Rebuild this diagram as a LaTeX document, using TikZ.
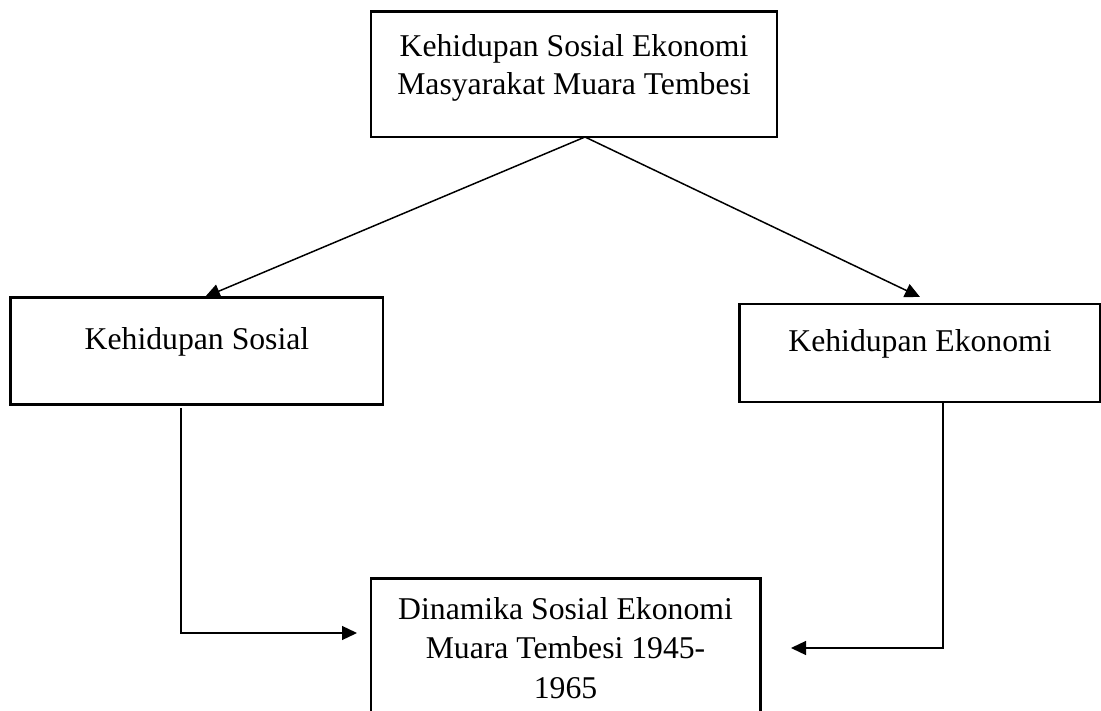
\documentclass[tikz,border=0pt]{standalone}
\usepackage{fontspec}
\setmainfont{Liberation Serif}
\usetikzlibrary{arrows.meta,calc}
\begin{document}
\begin{tikzpicture}[x=1pt,y=-1pt,
  box/.style={draw, line width=2.2pt, anchor=north west, inner sep=0pt, outer sep=0pt},
  txt/.style={font=\fontsize{31.7}{38}\selectfont, anchor=base, inner sep=0pt},
  conn/.style={line width=1.5pt, -{Triangle[length=15pt,width=14pt]}}]
\clip (0,0) rectangle (1101,711);
% boxes
\node[box, minimum width=406pt, minimum height=125.5pt] (top) at (371,11.5) {};
\node[box, minimum width=372.5pt, minimum height=107pt] (left) at (10.5,297.5) {};
\node[box, minimum width=360.5pt, minimum height=98pt] (right) at (739.5,304) {};
\node[box, minimum width=389.5pt, minimum height=150pt] (bottom) at (371,578.5) {};
% texts
\node[txt] (top1) at (574,57) {Kehidupan Sosial Ekonomi};
\node[txt] (top2) at (574,95) {Masyarakat Muara Tembesi};
\node[txt] (lefttext) at (197,350) {Kehidupan Sosial};
\node[txt] (righttext) at (920,352) {Kehidupan Ekonomi};
\node[txt] (bot1) at (565.5,619) {Dinamika Sosial Ekonomi};
\node[txt] (bot2) at (565.5,658) {Muara Tembesi 1945-};
\node[txt] (bot3) at (565.5,698) {1965};
% connector points
\coordinate (apex) at ($(top.south west)+(214,0)$);
\coordinate (ltip) at (205,297);
\coordinate (rtip) at (920,297);
\coordinate (lstart) at (181,408);
\coordinate (ltip2) at (357,633);
\coordinate (rstart) at ($(right.south west)+(203.5,0)$);
\coordinate (rtip2) at (791,648);
% connectors
\draw[conn] (apex) -- (ltip);
\draw[conn] (apex) -- (rtip);
\draw[conn, line width=1.3pt] (lstart) |- (ltip2);
\draw[conn, line width=1.3pt] (rstart) |- (rtip2);
\end{tikzpicture}
\end{document}
